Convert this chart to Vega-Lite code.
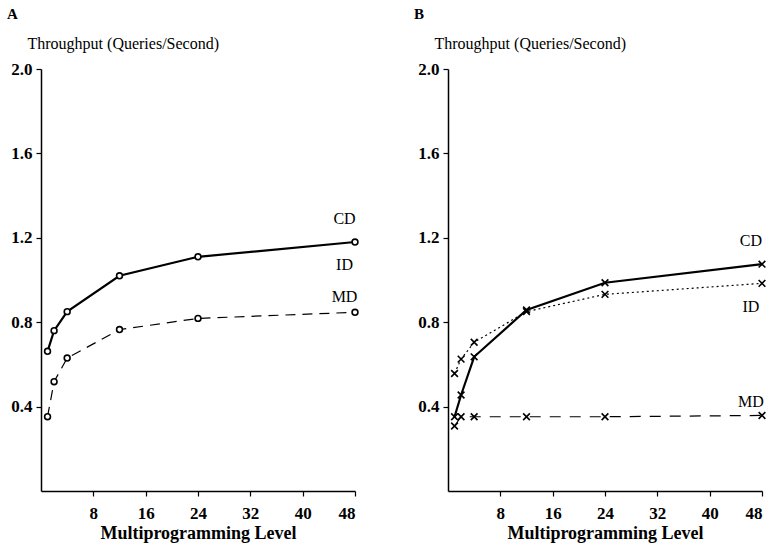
{
  "$schema": "https://vega.github.io/schema/vega-lite/v6.json",
  "background": "white",
  "padding": {"left": 7, "top": 7, "right": 2, "bottom": 5},
  "spacing": 93,
  "bounds": "flush",
  "config": {
    "view": {"stroke": null},
    "font": "Liberation Serif",
    "axis": {
      "grid": false,
      "domainColor": "black",
      "domainWidth": 1.5,
      "tickColor": "black",
      "tickSize": 5,
      "tickWidth": 1.2,
      "labelFont": "Liberation Serif",
      "labelFontWeight": "bold",
      "labelFontSize": 17,
      "labelColor": "black",
      "titleColor": "black",
      "titleFont": "Liberation Serif"
    },
    "title": {"font": "Liberation Serif", "fontSize": 15, "fontWeight": "bold", "color": "black", "anchor": "start", "frame": "group", "dx": -34, "offset": 13}
  },
  "datasets": {
    "A": [
      {"series": "CD", "x": 1, "y": 0.662},
      {"series": "CD", "x": 2, "y": 0.76},
      {"series": "CD", "x": 4, "y": 0.85},
      {"series": "CD", "x": 12, "y": 1.02},
      {"series": "CD", "x": 24, "y": 1.11},
      {"series": "CD", "x": 48, "y": 1.18},
      {"series": "MD", "x": 1, "y": 0.352},
      {"series": "MD", "x": 2, "y": 0.518},
      {"series": "MD", "x": 4, "y": 0.63},
      {"series": "MD", "x": 12, "y": 0.765},
      {"series": "MD", "x": 24, "y": 0.818},
      {"series": "MD", "x": 48, "y": 0.847}
    ],
    "B": [
      {"series": "CD", "x": 1, "y": 0.352},
      {"series": "CD", "x": 2, "y": 0.455},
      {"series": "CD", "x": 4, "y": 0.636},
      {"series": "CD", "x": 12, "y": 0.858},
      {"series": "CD", "x": 24, "y": 0.987},
      {"series": "CD", "x": 48, "y": 1.075},
      {"series": "ID", "x": 1, "y": 0.557},
      {"series": "ID", "x": 2, "y": 0.625},
      {"series": "ID", "x": 4, "y": 0.705},
      {"series": "ID", "x": 12, "y": 0.85},
      {"series": "ID", "x": 24, "y": 0.932},
      {"series": "ID", "x": 48, "y": 0.984},
      {"series": "MD", "x": 1, "y": 0.308},
      {"series": "MD", "x": 2, "y": 0.352},
      {"series": "MD", "x": 4, "y": 0.352},
      {"series": "MD", "x": 12, "y": 0.352},
      {"series": "MD", "x": 24, "y": 0.352},
      {"series": "MD", "x": 48, "y": 0.358}
    ],
    "LA": [
      {"x": 46.4, "y": 1.29, "t": "CD"},
      {"x": 46.4, "y": 1.07, "t": "ID"},
      {"x": 46.4, "y": 0.918, "t": "MD"}
    ],
    "LB": [
      {"x": 46.3, "y": 1.186, "t": "CD"},
      {"x": 46.3, "y": 0.87, "t": "ID"},
      {"x": 46.3, "y": 0.423, "t": "MD"}
    ]
  },
  "hconcat": [
    {
      "width": 314,
      "height": 422,
      "title": {"text": "A"},
      "encoding": {
        "x": {"field": "x", "type": "quantitative", "scale": {"domain": [0, 48], "nice": false, "zero": false},
          "axis": {"values": [8, 16, 24, 32, 40, 48], "title": "Multiprogramming Level", "titleFontSize": 18, "titleFontWeight": "bold", "labelPadding": 9, "titlePadding": 3}},
        "y": {"field": "y", "type": "quantitative", "scale": {"domain": [0, 2], "nice": false},
          "axis": {"values": [0.4, 0.8, 1.2, 1.6, 2.0], "format": ".1f", "title": "Throughput (Queries/Second)", "titleAngle": 0, "titleAlign": "left", "titleBaseline": "alphabetic", "titleX": -14, "titleY": -21, "titleFontWeight": "normal", "titleFontSize": 16, "labelPadding": 4}}
      },
      "layer": [
        {"data": {"name": "A"}, "transform": [{"filter": "datum.series === 'CD'"}], "mark": {"type": "line", "color": "black", "strokeWidth": 2.2}},
        {"data": {"name": "A"}, "transform": [{"filter": "datum.series === 'MD'"}], "mark": {"type": "line", "color": "black", "strokeWidth": 1.2, "strokeDash": [10, 7]}},
        {"data": {"name": "A"}, "mark": {"type": "point", "shape": "circle", "filled": true, "fill": "white", "stroke": "black", "strokeWidth": 1.6, "size": 34, "opacity": 1}},
        {"data": {"name": "LA"}, "mark": {"type": "text", "font": "Liberation Serif", "fontSize": 16, "color": "black"}, "encoding": {"text": {"field": "t"}}}
      ]
    },
    {
      "width": 314,
      "height": 422,
      "title": {"text": "B"},
      "encoding": {
        "x": {"field": "x", "type": "quantitative", "scale": {"domain": [0, 48], "nice": false, "zero": false},
          "axis": {"values": [8, 16, 24, 32, 40, 48], "title": "Multiprogramming Level", "titleFontSize": 18, "titleFontWeight": "bold", "labelPadding": 9, "titlePadding": 3}},
        "y": {"field": "y", "type": "quantitative", "scale": {"domain": [0, 2], "nice": false},
          "axis": {"values": [0.4, 0.8, 1.2, 1.6, 2.0], "format": ".1f", "title": "Throughput (Queries/Second)", "titleAngle": 0, "titleAlign": "left", "titleBaseline": "alphabetic", "titleX": -14, "titleY": -21, "titleFontWeight": "normal", "titleFontSize": 16, "labelPadding": 4}}
      },
      "layer": [
        {"data": {"name": "B"}, "transform": [{"filter": "datum.series === 'CD'"}], "mark": {"type": "line", "color": "black", "strokeWidth": 2.2}},
        {"data": {"name": "B"}, "transform": [{"filter": "datum.series === 'ID'"}], "mark": {"type": "line", "color": "black", "strokeWidth": 1.2, "strokeDash": [2, 3]}},
        {"data": {"name": "B"}, "transform": [{"filter": "datum.series === 'MD'"}], "mark": {"type": "line", "color": "black", "strokeWidth": 1.2, "strokeDash": [11, 9]}},
        {"data": {"name": "B"}, "mark": {"type": "point", "shape": "M-1,-1L1,1M1,-1L-1,1", "filled": false, "stroke": "black", "strokeWidth": 1.6, "size": 45, "opacity": 1}},
        {"data": {"name": "LB"}, "mark": {"type": "text", "font": "Liberation Serif", "fontSize": 16, "color": "black"}, "encoding": {"text": {"field": "t"}}}
      ]
    }
  ]
}
